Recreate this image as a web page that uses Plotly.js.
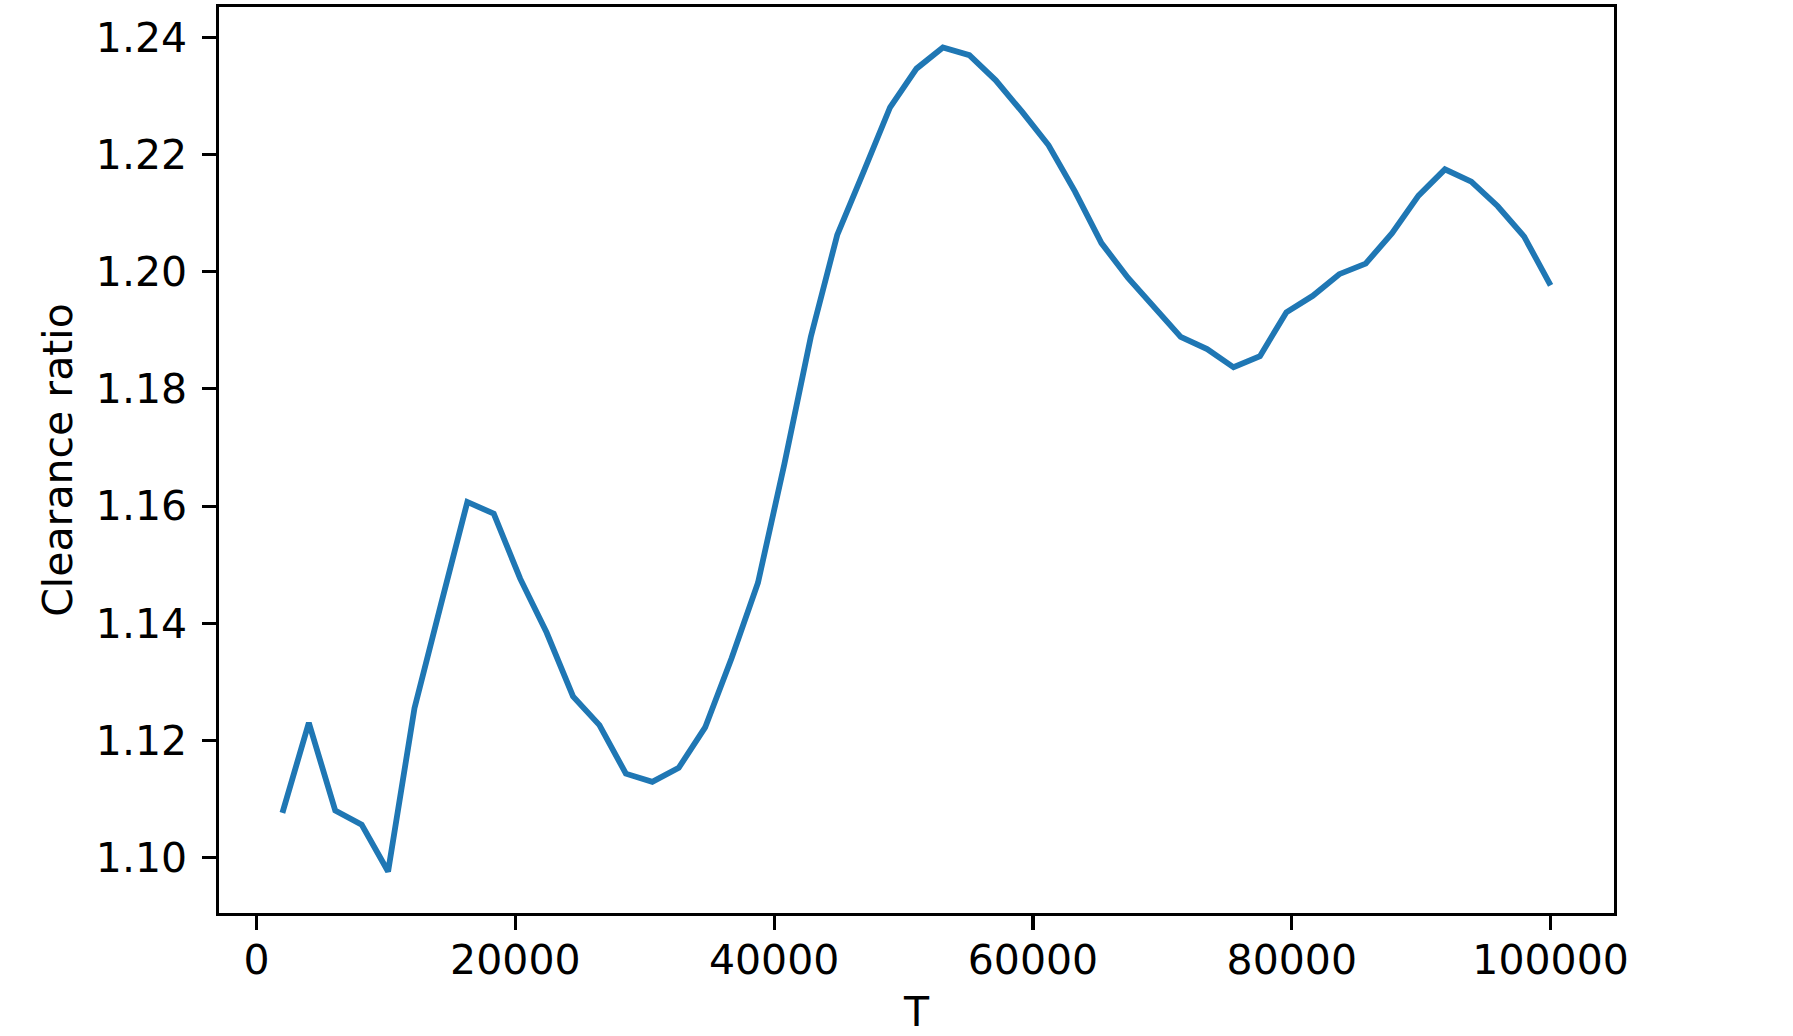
<!DOCTYPE html>
<html>
<head>
<meta charset="utf-8">
<script src="https://cdn.plot.ly/plotly-3.0.1.min.js"></script>
<style>
  html, body { margin: 0; padding: 0; background: #ffffff; }
  #chart { width: 1793px; height: 1036px; }
</style>
</head>
<body>
<div id="chart"></div>
<script>
// Data
const T = [2000, 4041.7, 6083.3, 8125, 10166.7, 12208.3, 14250, 16291.7, 18333.3, 20375,
  22416.7, 24458.3, 26500, 28541.7, 30583.3, 32625, 34666.7, 36708.3, 38750, 40791.7,
  42833.3, 44875, 46916.7, 48958.3, 51000, 53041.7, 55083.3, 57125, 59166.7, 61208.3,
  63250, 65291.7, 67333.3, 69375, 71416.7, 73458.3, 75500, 77541.7, 79583.3, 81625,
  83666.7, 85708.3, 87750, 89791.7, 91833.3, 93875, 95916.7, 97958.3, 100000];

const clearanceRatio = [1.1076, 1.1230, 1.1080, 1.1056, 1.0976, 1.1255, 1.1432, 1.1607, 1.1587, 1.1476,
  1.1384, 1.1275, 1.1226, 1.1143, 1.1129, 1.1153, 1.1222, 1.1340, 1.1469, 1.1672,
  1.1889, 1.2063, 1.2171, 1.2281, 1.2347, 1.2383, 1.2370, 1.2327, 1.2273, 1.2216,
  1.2137, 1.2049, 1.1990, 1.1940, 1.1889, 1.1868, 1.1837, 1.1856, 1.1931, 1.1959,
  1.1996, 1.2014, 1.2066, 1.2130, 1.2175, 1.2154, 1.2112, 1.2060, 1.1977];

const xTickVals = [0, 20000, 40000, 60000, 80000, 100000];
const xTickText = ["0", "20000", "40000", "60000", "80000", "100000"];
const yTickVals = [1.10, 1.12, 1.14, 1.16, 1.18, 1.20, 1.22, 1.24];
const yTickText = ["1.10", "1.12", "1.14", "1.16", "1.18", "1.20", "1.22", "1.24"];

const xTitle = "T";
const yTitle = "Clearance ratio";

const FONT = "DejaVu Sans, Liberation Sans, sans-serif";
const FS = 41;

const trace = {
  x: T,
  y: clearanceRatio,
  type: "scatter",
  mode: "lines",
  line: { color: "#1f77b4", width: 5.8 },
  hoverinfo: "x+y"
};

const layout = {
  width: 1793,
  height: 1036,
  paper_bgcolor: "#ffffff",
  plot_bgcolor: "#ffffff",
  showlegend: false,
  margin: { l: 219, r: 178.7, t: 6.7, b: 122.7, pad: 0 },
  font: { family: FONT, size: FS, color: "#000000" },
  xaxis: {
    range: [-2900, 104900],
    tickmode: "array",
    tickvals: xTickVals,
    ticktext: xTickText,
    ticks: "outside",
    ticklen: 13.6,
    tickwidth: 3.1,
    tickcolor: "#000000",
    ticklabelstandoff: -5,
    showline: true,
    linecolor: "#000000",
    linewidth: 3.1,
    mirror: true,
    showgrid: false,
    zeroline: false,
    tickfont: { family: FONT, size: FS, color: "#000000" },
    title: { text: xTitle, font: { family: FONT, size: FS, color: "#000000" }, standoff: 23 }
  },
  yaxis: {
    range: [1.09051, 1.24522],
    tickmode: "array",
    tickvals: yTickVals,
    ticktext: yTickText,
    ticks: "outside",
    ticklen: 13.6,
    tickwidth: 3.1,
    tickcolor: "#000000",
    ticklabelstandoff: 7,
    showline: true,
    linecolor: "#000000",
    linewidth: 3.1,
    mirror: true,
    showgrid: false,
    zeroline: false,
    tickfont: { family: FONT, size: FS, color: "#000000" },
    title: { text: yTitle, font: { family: FONT, size: FS, color: "#000000" }, standoff: 11 }
  }
};

Plotly.newPlot("chart", [trace], layout, { displayModeBar: false, staticPlot: true });
</script>
</body>
</html>
